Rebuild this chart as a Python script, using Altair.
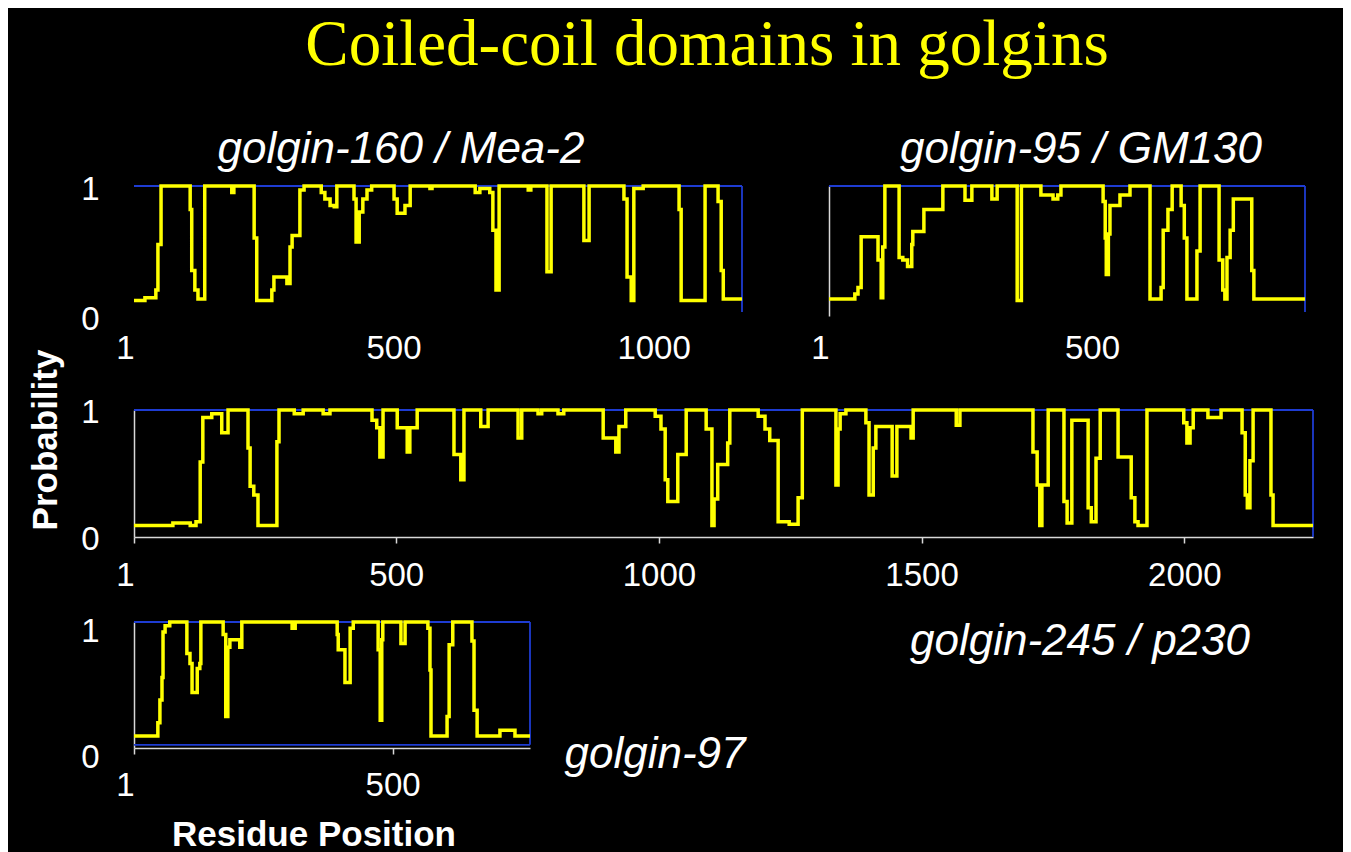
import altair as alt
import pandas as pd

W, H = 1335, 844

# ---------------- data: (residue position, coiled-coil probability) breakpoints ----------------
golgin160 = [(1, 0.12), (22, 0.14), (43, 0.2), (47, 0.55), (53, 1.0), (109, 0.82), (112, 0.35), (118, 0.2),
             (124, 0.13), (137, 1.0), (189, 0.95), (193, 1.0), (232, 0.6), (237, 0.12), (266, 0.2), (270, 0.3),
             (295, 0.25), (301, 0.53), (305, 0.62), (320, 0.97), (328, 1.0), (361, 0.95), (368, 0.9), (378, 0.85),
             (386, 0.84), (391, 1.0), (424, 0.9), (428, 0.57), (434, 0.8), (441, 0.9), (449, 0.97), (458, 1.0),
             (501, 0.9), (507, 0.79), (522, 0.85), (532, 1.0), (570, 0.98), (574, 1.0), (657, 0.95), (666, 0.98),
             (685, 0.95), (691, 0.66), (697, 0.2), (703, 1.0), (759, 0.97), (764, 1.0), (795, 0.34), (803, 1.0),
             (866, 0.58), (876, 1.0), (943, 0.9), (949, 0.3), (957, 0.12), (962, 0.98), (980, 1.0), (1049, 0.82),
             (1053, 0.12), (1099, 1.0), (1124, 0.88), (1130, 0.35), (1134, 0.13), (1170, 0.13)]

golgin95 = [(1, 0.13), (50, 0.17), (56, 0.22), (62, 0.61), (94, 0.43), (100, 0.14), (103, 0.53), (107, 1.0),
            (134, 0.45), (141, 0.43), (150, 0.38), (158, 0.55), (160, 0.65), (181, 0.82), (217, 1.0), (259, 0.89),
            (272, 1.0), (310, 0.9), (320, 1.0), (358, 0.12), (366, 1.0), (403, 0.93), (426, 0.9), (435, 0.93),
            (441, 1.0), (521, 0.88), (525, 0.6), (527, 0.32), (531, 0.63), (534, 0.85), (553, 0.93), (572, 1.0),
            (610, 0.13), (631, 0.22), (635, 0.66), (644, 0.82), (652, 1.0), (669, 0.85), (675, 0.6), (680, 0.13),
            (699, 0.5), (705, 1.0), (741, 0.43), (748, 0.2), (752, 0.13), (756, 0.45), (762, 0.66), (768, 0.9),
            (803, 0.35), (807, 0.13), (904, 0.13)]

golgin245 = [(1, 0.09), (75, 0.11), (108, 0.09), (119, 0.12), (127, 0.59), (132, 0.94), (149, 0.97), (168, 0.82),
             (180, 1.0), (218, 0.7), (222, 0.4), (229, 0.33), (237, 0.09), (273, 0.75), (277, 1.0), (306, 0.97),
             (323, 1.0), (361, 0.97), (374, 1.0), (454, 0.92), (463, 0.86), (469, 0.63), (475, 1.0), (502, 0.86),
             (521, 0.67), (526, 0.86), (540, 1.0), (610, 0.65), (623, 0.45), (629, 1.0), (661, 0.87), (675, 1.0),
             (732, 0.78), (739, 1.0), (770, 0.97), (777, 1.0), (808, 0.97), (819, 1.0), (894, 0.78), (918, 0.67),
             (924, 0.87), (937, 1.0), (993, 0.95), (1004, 0.85), (1012, 0.45), (1017, 0.28), (1036, 0.65),
             (1052, 1.0), (1090, 0.85), (1101, 0.09), (1105, 0.3), (1112, 0.57), (1131, 0.74), (1135, 1.0),
             (1189, 0.95), (1202, 0.85), (1211, 0.76), (1227, 0.12), (1248, 0.1), (1265, 0.31), (1273, 1.0),
             (1337, 0.41), (1341, 0.85), (1345, 0.97), (1356, 1.0), (1394, 0.9), (1400, 0.33), (1408, 0.7),
             (1413, 0.87), (1444, 0.48), (1453, 0.87), (1480, 0.78), (1484, 1.0), (1566, 0.88), (1573, 1.0),
             (1712, 0.67), (1720, 0.41), (1725, 0.09), (1729, 0.41), (1741, 1.0), (1771, 0.28), (1777, 0.11),
             (1786, 0.92), (1817, 0.23), (1823, 0.12), (1832, 0.62), (1840, 1.0), (1874, 0.63), (1899, 0.31),
             (1906, 0.12), (1912, 0.09), (1929, 1.0), (1999, 0.9), (2005, 0.74), (2011, 0.86), (2017, 1.0),
             (2045, 0.94), (2070, 1.0), (2110, 0.82), (2116, 0.33), (2120, 0.23), (2125, 0.6), (2131, 1.0),
             (2165, 0.33), (2169, 0.09), (2245, 0.09)]

golgin97 = [(1, 0.095), (47, 0.2), (51, 0.38), (55, 0.56), (57, 0.92), (61, 0.97), (70, 1.0), (103, 0.75),
            (109, 0.67), (113, 0.44), (123, 0.63), (128, 0.67), (130, 1.0), (173, 0.9), (178, 0.25), (182, 0.8),
            (186, 0.86), (205, 0.8), (209, 1.0), (306, 0.95), (312, 1.0), (393, 0.9), (395, 0.78), (408, 0.52),
            (418, 0.95), (424, 1.0), (472, 0.78), (476, 0.22), (479, 0.86), (481, 1.0), (516, 0.83), (524, 1.0),
            (568, 0.95), (572, 0.62), (574, 0.095), (605, 0.25), (609, 0.82), (616, 1.0), (653, 0.85), (657, 0.3),
            (663, 0.095), (707, 0.14), (736, 0.095), (765, 0.095)]

ticks160 = [1, 500, 1000]
ticks95 = [1, 500]
ticks245 = [1, 500, 1000, 1500, 2000]
ticks97 = [1, 500]
prob_ticks = [0, 1]

title_text = "Coiled-coil domains in golgins"
panel_names = ["golgin-160 / Mea-2", "golgin-95 / GM130", "golgin-245 / p230", "golgin-97"]
y_title = "Probability"
x_title = "Residue Position"

# ---------------- style ----------------
YELLOW = "#FFFF00"
BLUE = "#1E3CD2"
AXISC = "#D8D8D8"
WHITE = "#FFFFFF"
SANS = "Liberation Sans"
SERIF = "Liberation Serif"
LABEL_SIZE = 33
PANEL_SIZE = 44


def x_axis(axis_y, values, domain=False, ticks=False, pad=32):
    return alt.Axis(orient="bottom", offset=axis_y - H, values=values, format="d",
                    domain=domain, domainColor=AXISC, domainWidth=1.5,
                    ticks=ticks, tickSize=6 if ticks else 0, tickColor=AXISC, tickWidth=1.5,
                    labelPadding=pad, labelBaseline="middle",
                    labelAlign={"condition": {"test": "datum.value <= 1", "value": "right"}, "value": "center"},
                    labelFont=SANS, labelFontSize=LABEL_SIZE, labelColor=WHITE,
                    labelFlush=False, labelOverlap=False, labelBound=False, grid=False, title=None)


def y_axis(axis_x, labels=True, domain=False, pad=35, loff=3):
    return alt.Axis(orient="left", offset=-axis_x, values=prob_ticks, format="d",
                    domain=domain, domainColor=AXISC, domainWidth=1.5,
                    ticks=False, tickSize=0, labels=labels,
                    labelPadding=pad, labelBaseline="middle", labelAlign="right", labelOffset=loff,
                    labelFont=SANS, labelFontSize=LABEL_SIZE, labelColor=WHITE,
                    labelFlush=False, labelOverlap=False, labelBound=False, grid=False, title=None)


def panel(data, xdom, xr, yr, xax, yax, frame_bottom, closed=False):
    xs = alt.Scale(domain=xdom, range=xr, nice=False, zero=False)
    ys = alt.Scale(domain=[0, 1], range=yr, nice=False, zero=False)
    x0, x1 = xdom
    rules = [dict(x=x0, x2=x1, y=1.0, y2=1.0), dict(x=x1, x2=x1, y=1.0, y2=frame_bottom)]
    if closed:
        rules.append(dict(x=x0, x2=x1, y=frame_bottom, y2=frame_bottom))
    frame = alt.Chart(pd.DataFrame(rules)).mark_rule(color=BLUE, strokeWidth=1.8).encode(
        x=alt.X("x:Q", scale=xs, axis=None), x2="x2:Q",
        y=alt.Y("y:Q", scale=ys, axis=None), y2="y2:Q")
    df = pd.DataFrame(data, columns=["pos", "prob"])
    line = alt.Chart(df).mark_line(color=YELLOW, strokeWidth=3.5, interpolate="step-after").encode(
        x=alt.X("pos:Q", scale=xs, axis=xax),
        y=alt.Y("prob:Q", scale=ys, axis=yax))
    return [frame, line]


layers = []
# golgin-160 / Mea-2
layers += panel(golgin160, [1, 1170], [126, 734], [308, 178],
                x_axis(308, ticks160), y_axis(126, loff=3), 0.03)
# golgin-95 / GM130
layers += panel(golgin95, [1, 904], [821, 1297], [308, 178],
                x_axis(308, ticks95), y_axis(821, labels=False, domain=True), 0.03)
# golgin-245 / p230
layers += panel(golgin245, [1, 2245], [126, 1305], [529, 402],
                x_axis(529, ticks245, domain=True, ticks=True, pad=32), y_axis(126, domain=True, loff=2), 0.0)
# golgin-97
layers += panel(golgin97, [1, 765], [126, 522], [740, 614],
                x_axis(740, ticks97, domain=True, ticks=True, pad=31), y_axis(126, domain=True, loff=9),
                0.025, closed=True)


def text_layer(txt, x, y, size, font, color, style="normal", weight="normal", angle=0, baseline="alphabetic"):
    return alt.Chart(pd.DataFrame({"t": [txt]})).mark_text(
        font=font, fontSize=size, fontStyle=style, fontWeight=weight, color=color,
        align="center", baseline=baseline, angle=angle).encode(
        text="t:N", x=alt.value(x), y=alt.value(y))


layers.append(text_layer(title_text, 699, 57, 65, SERIF, YELLOW))
layers.append(text_layer(panel_names[0], 393, 155, PANEL_SIZE, SANS, WHITE, style="italic"))
layers.append(text_layer(panel_names[1], 1073, 155, PANEL_SIZE, SANS, WHITE, style="italic"))
layers.append(text_layer(panel_names[2], 1072, 647, PANEL_SIZE, SANS, WHITE, style="italic"))
layers.append(text_layer(panel_names[3], 647, 760, PANEL_SIZE, SANS, WHITE, style="italic"))
layers.append(text_layer(y_title, 38, 432, 35, SANS, WHITE, weight="bold", angle=270, baseline="middle"))
layers.append(text_layer(x_title, 306, 838, 35, SANS, WHITE, weight="bold"))

chart = alt.layer(*layers).resolve_scale(x="independent", y="independent").properties(
    width=W, height=H, padding=0, background="black",
    autosize=alt.AutoSizeParams(type="none")
).configure_view(stroke=None)

chart.save("out.html", embed_options={"renderer": "svg", "actions": False})
